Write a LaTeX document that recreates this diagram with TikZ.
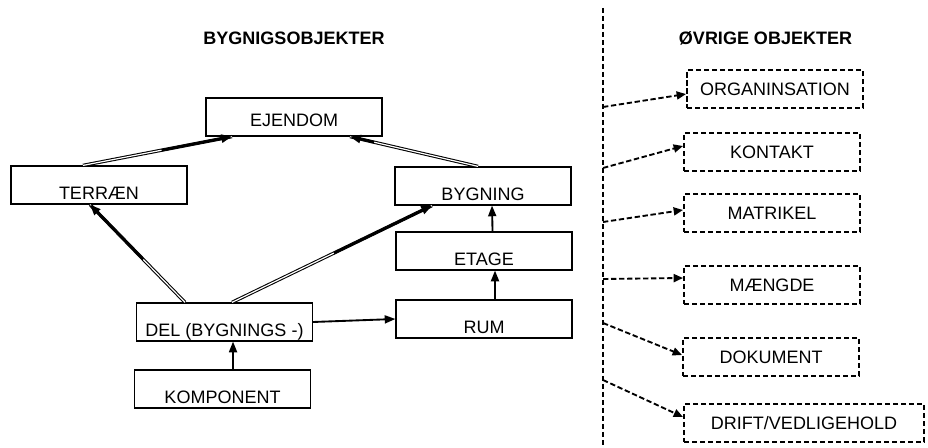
\documentclass[tikz,border=0pt]{standalone}
\usepackage{fontspec}
\setmainfont{Liberation Sans}
\usetikzlibrary{arrows.meta}
\begin{document}
\begin{tikzpicture}[x=0.75pt,y=-0.75pt,
  font=\fontsize{13.5}{16}\selectfont,
  obj/.style={draw,line width=0.9pt,minimum width=132pt,minimum height=28.5pt,
    inner sep=2pt,text height=21.7pt,text depth=0pt},
  other/.style={draw,line width=1.5pt,dash pattern=on 4pt off 2pt,minimum width=132pt,
    minimum height=28.5pt,inner sep=2pt,text height=9.7pt,text depth=0pt},
  head/.style={font=\fontsize{13.5}{16}\selectfont\bfseries},
  link/.style={line width=1.4pt,-{Triangle[length=8pt,width=6pt]}},
  wedge/.style={double,line width=0.8pt,double distance=0.9pt,
    postaction={draw,line width=1.9pt,shorten <=#1,-{Triangle[length=8pt,width=6pt]}}},
  dlink/.style={line width=1.4pt,dash pattern=on 4pt off 2pt,-{Triangle[length=7pt,width=6pt]}}]
  \useasboundingbox (0,0) rectangle (928,448);
  % overskrifter
  \node[head] (hbyg) at (294,38.5) {BYGNIGSOBJEKTER};
  \node[head] (hovr) at (765.5,38.5) {ØVRIGE OBJEKTER};
  % bygningsobjekter
  \node[obj,text height=14.2pt] (ejendom) at (294,117) {EJENDOM};
  \node[obj] (terraen) at (99,185) {TERRÆN};
  \node[obj] (bygning) at (483,186) {BYGNING};
  \node[obj] (etage) at (484,251) {ETAGE};
  \node[obj] (del) at (224.5,322) {DEL (BYGNINGS  -)};
  \node[obj] (rum) at (484,319) {RUM};
  \node[obj] (komponent) at (222.5,389) {KOMPONENT};
  \draw[wedge=60pt] ([xshift=-12pt]terraen.north) -- ([xshift=-46.5pt]ejendom.south);
  \draw[wedge=80pt] ([xshift=-3.75pt]bygning.north) -- ([xshift=42pt]ejendom.south);
  \draw[wedge=45pt] ([xshift=-29.6pt]del.north) -- ([xshift=-6.75pt]terraen.south);
  \draw[wedge=85pt] ([xshift=5.6pt]del.north) -- ([xshift=-38.25pt]bygning.south);
  \draw[link] ([xshift=6.4pt]etage.north) -- ([xshift=6.75pt]bygning.south);
  \draw[link] ([xshift=8.25pt]rum.north) -- ([xshift=8.25pt]etage.south);
  \draw[link] (del.east) -- (rum.west);
  \draw[link] ([xshift=7.9pt]komponent.north) -- ([xshift=6.4pt]del.south);
  % skillelinje
  \coordinate (top) at (603,8);
  \coordinate (bund) at (603,448);
  \draw[line width=1.5pt,dash pattern=on 4pt off 2pt] (top) -- (bund);
  % øvrige objekter
  \node[other] (org) at (775,89.5) {ORGANINSATION};
  \node[other] (kontakt) at (772,152) {KONTAKT};
  \node[other] (matrikel) at (772,213) {MATRIKEL};
  \node[other] (maengde) at (772,285) {MÆNGDE};
  \node[other] (dokument) at (771,357) {DOKUMENT};
  \node[other,minimum width=180pt] (drift) at (804,423) {DRIFT/VEDLIGEHOLD};
  \foreach \n/\y/\dy in {org/107/-3.4,kontakt/168/4.5,matrikel/222/2.25,
                         maengde/279/5.25,dokument/323/1.5,drift/380/4.5} {
    \coordinate (s\n) at (603,\y);
    \draw[dlink] (s\n) -- ([yshift=\dy pt]\n.west);
  }
\end{tikzpicture}
\end{document}
